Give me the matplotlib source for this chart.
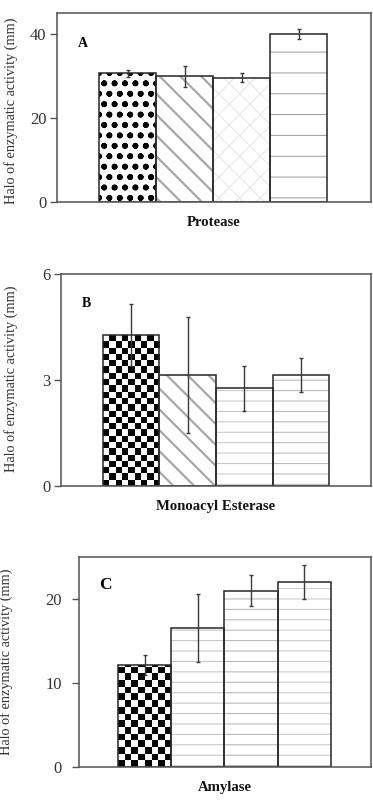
import matplotlib
matplotlib.use('Agg')
import matplotlib.pyplot as plt
import numpy as np

plt.rcParams['font.family'] = ['Liberation Serif', 'DejaVu Serif']

ylabel = 'Halo of enzymatic activity (mm)'
enzymes = ['Protease', 'Monoacyl Esterase', 'Amylase']
panel_tags = ['A', 'B', 'C']

# bar heights and error bars, four treatments per enzyme
protease = [30.6, 30.0, 29.6, 40.0]
protease_err = [0.8, 2.5, 1.0, 1.3]
esterase = [4.27, 3.14, 2.76, 3.14]
esterase_err = [0.87, 1.65, 0.65, 0.49]
amylase = [12.1, 16.5, 21.0, 22.0]
amylase_err = [1.2, 4.05, 1.8, 2.05]

yticks_a = [0, 20, 40]
yticks_b = [0, 3, 6]
yticks_c = [0, 10, 20]

DPI = 125
W, H = 373, 809

# (hatch, hatch colour, hatch linewidth) or ('checker', ncols)
fills = [
    [('oo..', 'black', 1.0), ('\\\\', '#a8a8a8', 1.3), ('xx', '#e2e2e2', 0.5), ('-', '#a0a0a0', 0.6)],
    [('checker', 9), ('\\\\', '#a8a8a8', 1.3), ('--', '#c8c8c8', 0.6), ('--', '#bababa', 0.6)],
    [('checker', 8), ('--', '#c4c4c4', 0.6), ('--', '#b4b4b4', 0.6), ('--', '#d0d0d0', 0.7)],
]

# axes boxes in pixels: left, top, right, bottom
boxes = [(57, 13, 371, 202), (61, 274, 371, 486), (79, 557, 371, 767)]
ylims = [45, 6, 25]
xlims = [(-1.24, 4.27), (-1.24, 4.24), (-1.23, 4.25)]
label_xy = [(-0.124, 0.484), (-0.139, 0.506), (-0.226, 0.501)]
tag_xy = [(0.067, 0.841), (0.068, 0.863), (0.068, 0.866)]
tag_size = [8, 8, 10]
tick_pad = [2, 2, 6]

values = [protease, esterase, amylase]
errors = [protease_err, esterase_err, amylase_err]
yticks = [yticks_a, yticks_b, yticks_c]


def checker(ax, bar, ncols):
    x0, y0 = bar.get_x(), bar.get_y()
    w, h = bar.get_width(), bar.get_height()
    (px0, py0), (px1, py1) = ax.transData.transform([(x0, y0), (x0 + w, y0 + h)])
    cell = (px1 - px0) / ncols
    nrows = int(np.ceil((py1 - py0) / cell))
    img = np.add.outer(np.arange(nrows), np.arange(ncols)) % 2
    top = y0 + nrows * cell / (py1 - py0) * h
    im = ax.imshow(img, cmap='gray', vmin=0, vmax=1, extent=(x0, x0 + w, y0, top),
                   origin='lower', interpolation='nearest', aspect='auto', zorder=1)
    im.set_clip_path(bar)


fig = plt.figure(figsize=(W / DPI, H / DPI), dpi=DPI)

for i in range(3):
    l, t, r, b = boxes[i]
    ax = fig.add_axes([l / W, 1 - b / H, (r - l) / W, (b - t) / H])
    ax.set_xlim(*xlims[i])
    ax.set_ylim(0, ylims[i])
    x = np.arange(len(values[i]))

    for j, f in enumerate(fills[i]):
        if f[0] == 'checker':
            bg = ax.bar(x[j], values[i][j], width=1, color='white', linewidth=0, zorder=1)[0]
            checker(ax, bg, f[1])
        else:
            hatch, hc, hlw = f
            with plt.rc_context({'hatch.linewidth': hlw}):
                bg = ax.bar(x[j], values[i][j], width=1, color='white', edgecolor=hc,
                            linewidth=0, hatch=hatch, zorder=1)[0]
            if hasattr(bg, 'set_hatch_linewidth'):
                bg.set_hatch_linewidth(hlw)
    # outlines on top
    ax.bar(x, values[i], width=1, fill=False, edgecolor='#2a2a2a', linewidth=0.9, zorder=2)
    ax.errorbar(x, values[i], yerr=errors[i], fmt='none', ecolor='#3a3a3a',
                elinewidth=0.8, capsize=1.2, capthick=0.8, zorder=3)

    ax.set_xlim(*xlims[i])
    ax.set_ylim(0, ylims[i])
    ax.set_yticks(yticks[i])
    ax.set_xticks([1.5])
    ax.set_xticklabels([enzymes[i]], fontweight='bold', fontsize=8.5)
    ax.tick_params(axis='x', length=0, pad=8, colors='#111')
    ax.tick_params(axis='y', direction='out', length=4, width=0.8, pad=tick_pad[i],
                   labelsize=9.5, color='#555', labelcolor='#333')
    for s in ax.spines.values():
        s.set_color('#555')
        s.set_linewidth(0.9)
    ax.set_ylabel(ylabel, fontsize=8.2, color='#333')
    ax.yaxis.set_label_coords(*label_xy[i])
    ax.text(tag_xy[i][0], tag_xy[i][1], panel_tags[i], transform=ax.transAxes,
            fontsize=tag_size[i], fontweight='bold', ha='left', va='center')

fig.savefig('out.png', dpi=DPI)
